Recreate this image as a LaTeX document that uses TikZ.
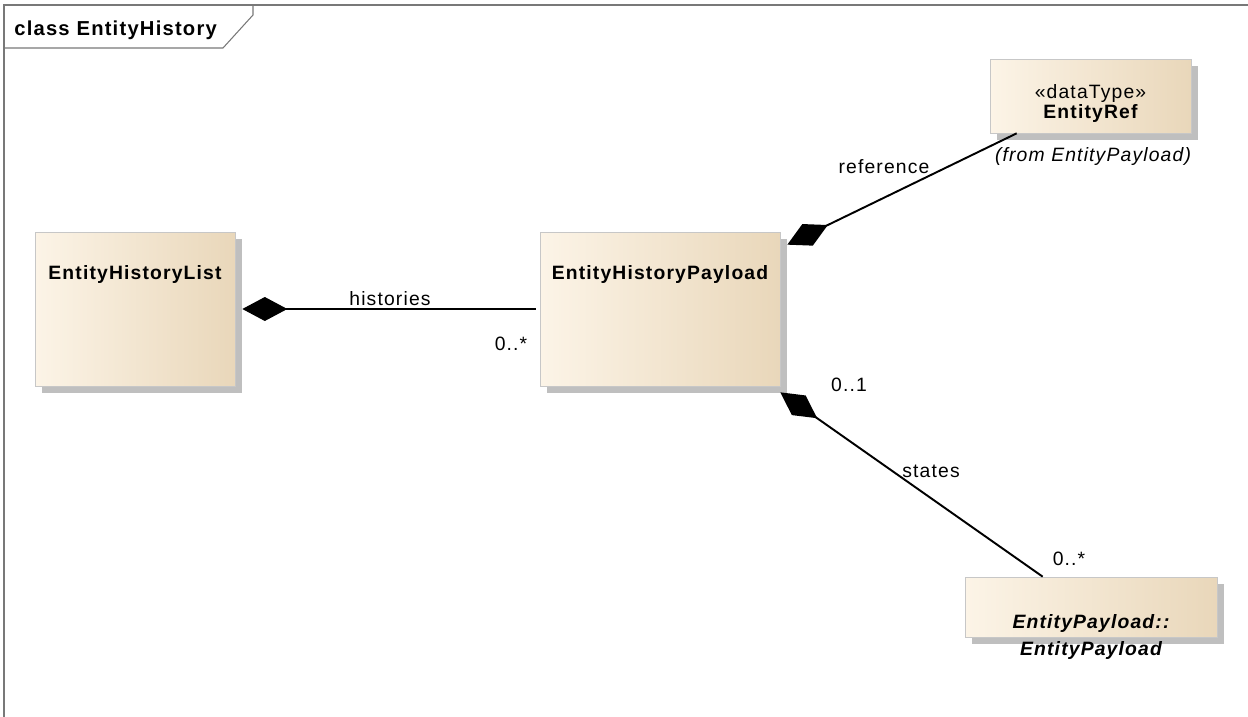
\documentclass[tikz,border=0pt]{standalone}
\usepackage{fontspec}
\setmainfont{Liberation Sans}[LetterSpace=6]
\usetikzlibrary{arrows.meta,shadows}

\definecolor{boxlight}{RGB}{252,244,231}
\definecolor{boxdark}{RGB}{233,215,186}
\definecolor{framegray}{RGB}{120,120,120}

\tikzset{
  classbox/.style={draw=black!22, line width=0.4pt, inner sep=0pt,
    left color=boxlight, right color=boxdark,
    drop shadow={shadow xshift=0.14cm, shadow yshift=-0.14cm, fill=black!25, opacity=1}},
  umltext/.style={font=\fontsize{11}{13}\selectfont, inner sep=0pt, anchor=base},
  assoc/.style={line width=1.1pt, {Diamond[length=0.9cm,width=0.48cm]}-},
}

\begin{document}
\begin{tikzpicture}[x=0.02cm,y=-0.02cm]
\useasboundingbox (0,0) rectangle (1248,717);

% Frame of the class diagram
\draw [framegray, line width=0.6pt] (4,717) -- (4,5) -- (1248,5);
\draw [framegray, line width=0.6pt] (4,48) -- (223,48) -- (253,15) -- (253,5);
\node [umltext, anchor=base west, font=\fontsize{11.5}{13}\selectfont] (frametitle) at (14,35.5) {\bfseries class EntityHistory};

% Classes
\node [classbox, minimum width=4cm, minimum height=3.08cm] (hlist) at (135,309) {};
\node [umltext] (hlisttitle) at (135,279) {\bfseries EntityHistoryList};

\node [classbox, minimum width=4.8cm, minimum height=3.08cm] (hpay) at (660,309) {};
\node [umltext] (hpaytitle) at (660,279) {\bfseries EntityHistoryPayload};

\node [classbox, minimum width=4.02cm, minimum height=1.48cm] (eref) at (1090.5,96) {};
\node [umltext] (erefstereo) at (1090.5,98) {«dataType»};
\node [umltext] (ereftitle) at (1090.5,118) {\bfseries EntityRef};
\node [umltext] (eref-from) at (1093,161) {\itshape (from EntityPayload)};

\node [classbox, minimum width=5.04cm, minimum height=1.2cm] (epay) at (1091,607) {};
\node [umltext] (epaytitle) at (1091,628) {\bfseries\itshape EntityPayload::};
\node [umltext] (epaytitleb) at (1091,655) {\bfseries\itshape EntityPayload};

% Composition histories
\draw [assoc] ([xshift=0.14cm]hlist.east) -- ([xshift=-0.08cm]hpay.west);
\node [umltext] (histories) at (390,305) {histories};
\node [umltext] (histmult) at (511,350) {0..*};

% Composition reference
\draw [assoc] ([shift={(0.14cm,-0.26cm)}]hpay.north east) -- ([xshift=0.54cm]eref.south west);
\node [umltext] (reference) at (884,173) {reference};

% Composition states
\draw [assoc] ([yshift=-0.12cm]hpay.south east) -- ([xshift=1.56cm]epay.north west);
\node [umltext] (statesmulta) at (849,391) {0..1};
\node [umltext] (states) at (931,477) {states};
\node [umltext] (statesmultb) at (1069,565) {0..*};
\end{tikzpicture}
\end{document}
